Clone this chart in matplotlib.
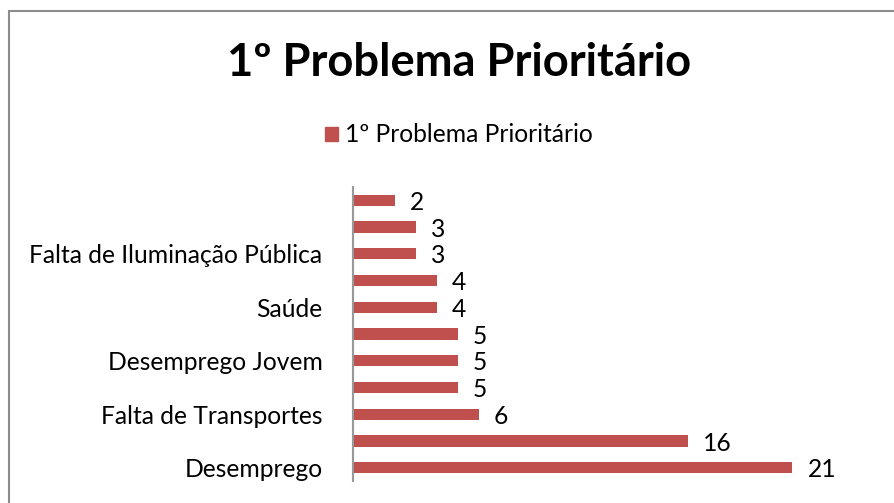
import matplotlib
matplotlib.use("Agg")
import matplotlib.pyplot as plt
from matplotlib.patches import Rectangle

# Data (bottom to top); unlabeled categories are not shown in the reference
categories = ["Desemprego", "", "Falta de Transportes", "", "Desemprego Jovem", "",
              "Saúde", "", "Falta de Iluminação Pública", "", ""]
values = [21, 16, 6, 5, 5, 5, 4, 4, 3, 3, 2]
series_name = "1º Problema Prioritário"
title = "1º Problema Prioritário"

plt.rcParams['font.family'] = ['Lato', 'DejaVu Sans']
color = "#C0504D"
fs = 17.7

W, H = 894, 503
fig = plt.figure(figsize=(W / 100, H / 100), dpi=100)

# outer chart frame
fig.patches.append(Rectangle((9 / W, 0 - 0.01), 1.0, 1 - 11 / H + 0.01,
                             transform=fig.transFigure, fill=False,
                             edgecolor="#8c8c8c", linewidth=1.5))

ax_left, ax_right = 353, 353 + 25 * 20.92
ax_top, ax_bot = 187, 481
ax = fig.add_axes([ax_left / W, 1 - ax_bot / H, (ax_right - ax_left) / W, (ax_bot - ax_top) / H])

ypos = list(range(len(values)))
ax.barh(ypos, values, height=0.42, color=color, label=series_name)
ax.set_xlim(0, 25)
ax.set_ylim(-0.5, len(values) - 0.5)

for y, v in zip(ypos, values):
    ax.text(v + 0.72, y - 0.08, str(v), va="center", ha="left", fontsize=fs, color="black")

ax.set_yticks(ypos)
ax.set_yticklabels(categories, fontsize=fs)
ax.tick_params(axis="y", length=0, pad=22)
ax.set_xticks([])
for s in ["top", "right", "bottom"]:
    ax.spines[s].set_visible(False)
ax.spines["left"].set_color("#999999")
ax.spines["left"].set_linewidth(1.5)

fig.text(459 / W, 1 - 63 / H, title, ha="center", va="center", fontsize=32.7, fontweight="bold")

# legend
fig.patches.append(Rectangle((325 / W, 1 - 141 / H), 13 / W, 14 / H,
                             transform=fig.transFigure, color=color))
fig.text(345 / W, 1 - 134 / H, series_name, ha="left", va="center", fontsize=fs)

fig.savefig("out.png", dpi=100)
